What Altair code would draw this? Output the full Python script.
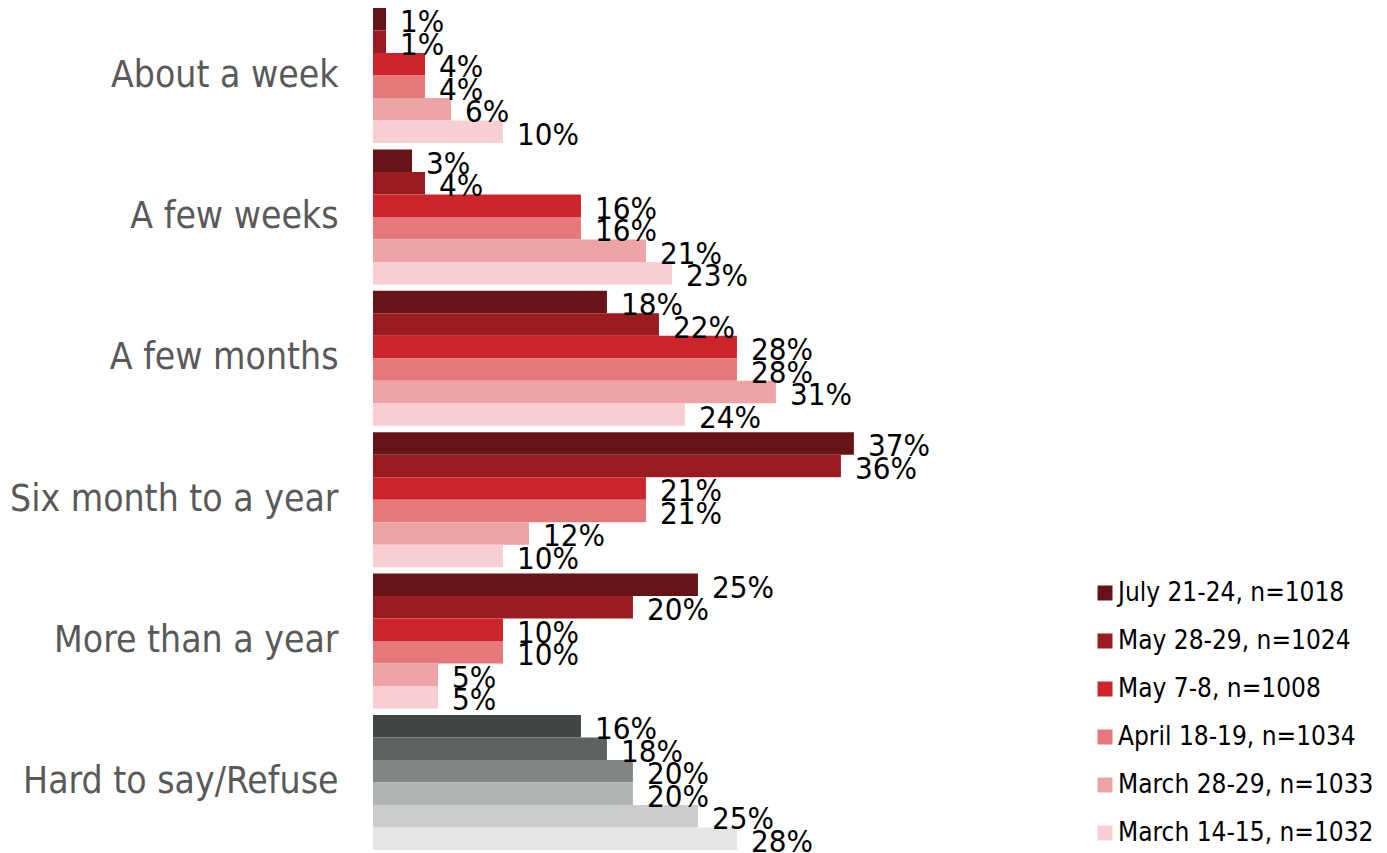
import altair as alt
import pandas as pd

categories = ["About a week", "A few weeks", "A few months", "Six month to a year",
              "More than a year", "Hard to say/Refuse"]
series = ["July 21-24, n=1018", "May 28-29, n=1024", "May 7-8, n=1008",
          "April 18-19, n=1034", "March 28-29, n=1033", "March 14-15, n=1032"]
values = {
    "About a week": [1, 1, 4, 4, 6, 10],
    "A few weeks": [3, 4, 16, 16, 21, 23],
    "A few months": [18, 22, 28, 28, 31, 24],
    "Six month to a year": [37, 36, 21, 21, 12, 10],
    "More than a year": [25, 20, 10, 10, 5, 5],
    "Hard to say/Refuse": [16, 18, 20, 20, 25, 28],
}
reds = ["#661417", "#9a1c20", "#cb252b", "#e6777a", "#eea3a6", "#f8ced3"]
greys = ["#404445", "#5f6263", "#818685", "#b1b4b4", "#cbcdcc", "#e4e6e5"]
grey_category = "Hard to say/Refuse"

rows = []
for c in categories:
    for s, v in zip(series, values[c]):
        rows.append({"category": c, "series": s, "value": v, "label": f"{v}%"})
df = pd.DataFrame(rows)

FONT = "DejaVu Sans Condensed"

base = alt.Chart(df).encode(
    y=alt.Y("category:N", sort=categories, title=None,
            scale=alt.Scale(paddingInner=0.045, paddingOuter=0.0),
            axis=alt.Axis(ticks=False, domain=False, labelFontSize=37, labelFont=FONT,
                          labelColor="#595959", labelPadding=35, labelLimit=600)),
    yOffset=alt.YOffset("series:N", sort=series, scale=alt.Scale(paddingInner=0, paddingOuter=0)),
    x=alt.X("value:Q", axis=None, scale=alt.Scale(domain=[0, 77.4], nice=False)),
)

red_bars = base.transform_filter(alt.datum.category != grey_category).mark_bar().encode(
    color=alt.Color("series:N", sort=series,
                    scale=alt.Scale(domain=series, range=reds),
                    legend=alt.Legend(title=None, orient="none", legendX=719, legendY=572,
                                      symbolType="square", symbolSize=225, symbolStrokeWidth=0,
                                      labelFontSize=26, labelFont=FONT, labelColor="#000000",
                                      labelOffset=0, rowPadding=22, padding=0, labelLimit=400))
)

grey_bars = base.transform_filter(alt.datum.category == grey_category).mark_bar().encode(
    color=alt.Color("series:N", sort=series,
                    scale=alt.Scale(domain=series, range=greys), legend=None)
)

labels = base.mark_text(align="left", baseline="middle", dx=14, dy=4, fontSize=31,
                        font=FONT, color="#000000").encode(text="label:N")

chart = alt.layer(red_bars, grey_bars, labels).resolve_scale(color="independent").properties(
    width=1006, height=842,
    padding={"left": 365, "top": 0, "right": 0, "bottom": 8},
    autosize=alt.AutoSizeParams(type="none"),
).configure(font=FONT).configure_view(stroke="transparent", strokeWidth=0)

chart.save("out.html", embed_options={"renderer": "svg", "actions": False})
